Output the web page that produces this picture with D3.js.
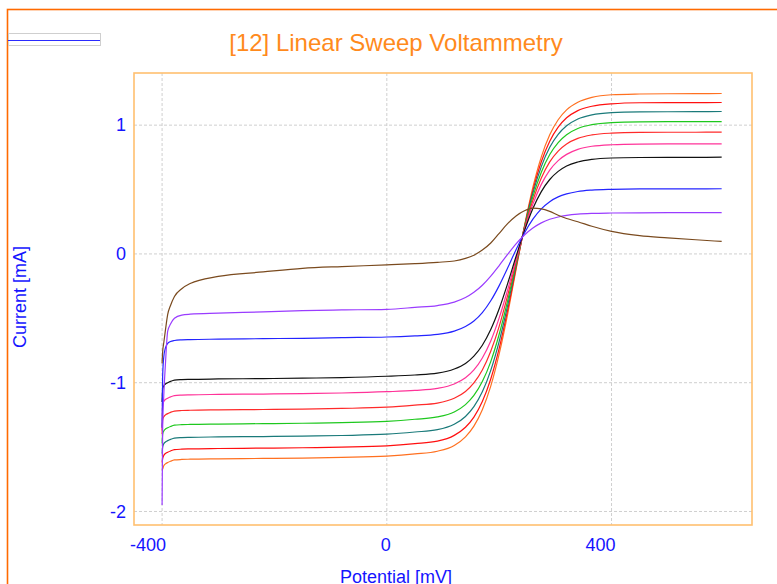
<!DOCTYPE html>
<html>
<head>
<meta charset="utf-8">
<script src="https://cdn.jsdelivr.net/npm/d3@7"></script>
<style>
  html, body { margin: 0; padding: 0; background: #fff; }
  svg { display: block; font-family: "Liberation Sans", Arial, sans-serif; }
</style>
</head>
<body>
<svg id="chart" width="777" height="584"></svg>
<script>
/* ---------- data ---------- */
const potential = [-400,-399,-397,-394,-390,-385,-378,-365,-350,-300,
                   -220,-150,-80,0,50,90,120,140,155,170,
                   185,200,215,230,245,260,275,290,305,320,
                   340,365,400,450,500,550,596];

const orange = [-1.68,-1.67,-1.645,-1.63,-1.62,-1.61,-1.60,-1.596,-1.594,-1.591,
                -1.588,-1.585,-1.58,-1.57,-1.553,-1.532,-1.487,-1.42,-1.337,-1.21,
                -1.027,-0.777,-0.469,-0.122,0.218,0.518,0.754,0.925,1.042,1.119,
                1.178,1.216,1.236,1.242,1.244,1.245,1.246];
const red1   = [-1.62,-1.59,-1.565,-1.55,-1.54,-1.53,-1.52,-1.516,-1.514,-1.511,
                -1.508,-1.505,-1.50,-1.49,-1.473,-1.454,-1.409,-1.346,-1.267,-1.146,
                -0.971,-0.734,-0.439,-0.110,0.211,0.493,0.716,0.875,0.984,1.057,
                1.113,1.147,1.166,1.174,1.175,1.175,1.176];
const teal   = [-1.55,-1.50,-1.475,-1.46,-1.45,-1.44,-1.43,-1.426,-1.424,-1.421,
                -1.418,-1.415,-1.41,-1.40,-1.383,-1.365,-1.323,-1.262,-1.186,-1.071,
                -0.904,-0.679,-0.401,-0.093,0.209,0.473,0.678,0.828,0.929,0.995,
                1.048,1.080,1.097,1.103,1.104,1.105,1.106];
const green  = [-1.47,-1.40,-1.375,-1.36,-1.35,-1.34,-1.33,-1.326,-1.324,-1.321,
                -1.318,-1.315,-1.31,-1.30,-1.284,-1.266,-1.227,-1.170,-1.099,-0.991,
                -0.836,-0.624,-0.364,-0.077,0.202,0.445,0.635,0.772,0.865,0.926,
                0.974,1.004,1.020,1.026,1.027,1.027,1.028];
const red2   = [-1.40,-1.29,-1.265,-1.25,-1.24,-1.23,-1.22,-1.216,-1.214,-1.211,
                -1.208,-1.205,-1.20,-1.19,-1.174,-1.158,-1.121,-1.068,-1.002,-0.902,
                -0.756,-0.563,-0.324,-0.061,0.195,0.417,0.590,0.715,0.799,0.854,
                0.897,0.924,0.938,0.944,0.945,0.945,0.946];
const pink   = [-1.37,-1.17,-1.145,-1.13,-1.12,-1.11,-1.10,-1.096,-1.094,-1.091,
                -1.088,-1.085,-1.08,-1.07,-1.060,-1.044,-1.010,-0.962,-0.901,-0.808,
                -0.676,-0.497,-0.280,-0.042,0.188,0.387,0.540,0.651,0.725,0.773,
                0.812,0.836,0.848,0.853,0.854,0.854,0.855];
const black  = [-1.15,-1.05,-1.025,-1.01,-1.00,-0.99,-0.98,-0.976,-0.974,-0.971,
                -0.968,-0.965,-0.96,-0.95,-0.940,-0.926,-0.894,-0.850,-0.793,-0.709,
                -0.587,-0.426,-0.231,-0.020,0.181,0.353,0.484,0.578,0.641,0.683,
                0.714,0.734,0.745,0.749,0.750,0.750,0.751];
const blue   = [-1.35,-0.95,-0.80,-0.73,-0.695,-0.68,-0.672,-0.667,-0.665,-0.662,
                -0.658,-0.655,-0.65,-0.645,-0.636,-0.625,-0.600,-0.564,-0.521,-0.456,
                -0.364,-0.246,-0.110,0.033,0.163,0.270,0.350,0.406,0.443,0.466,
                0.485,0.496,0.502,0.505,0.505,0.505,0.506];
const purple = [-1.95,-1.35,-1.10,-0.85,-0.60,-0.545,-0.50,-0.475,-0.468,-0.46,
                -0.45,-0.44,-0.435,-0.43,-0.415,-0.401,-0.374,-0.339,-0.298,-0.243,
                -0.172,-0.090,-0.004,0.078,0.147,0.201,0.241,0.269,0.287,0.299,
                0.309,0.315,0.318,0.3195,0.32,0.32,0.321];
const brown  = [-0.85,-0.76,-0.69,-0.59,-0.47,-0.40,-0.33,-0.27,-0.23,-0.175,
                -0.14,-0.112,-0.098,-0.085,-0.075,-0.065,-0.055,-0.035,-0.01,0.03,
                0.085,0.16,0.235,0.295,0.335,0.355,0.35,0.33,0.30,0.275,
                0.25,0.215,0.175,0.142,0.125,0.11,0.097];

const xTicks = [-400, 0, 400];
const yTicks = [1, 0, -1, -2];

const series  = [orange, red1, teal, green, red2, pink, black, blue, purple, brown];
const colours = ['#ff7020','#ff1010','#1a7a7a','#1ec81e','#ff2a2a','#ff3399',
                 '#111111','#2424ff','#9a3cff','#7a4a1e'];

/* ---------- svg & scales ---------- */
const svg = d3.select('#chart');
const P = {l:134, r:752, t:73, b:525};

const x = d3.scaleLinear().domain([-450, 650]).range([P.l, P.r]);
const y = d3.scaleLinear().domain([-2.105, 1.405]).range([P.b, P.t]);

// outer frame (only left/top edges inside the view)
svg.append('rect')
   .attr('x',7.5).attr('y',9.5).attr('width',800).attr('height',620)
   .attr('fill','none').attr('stroke','#ff6a00').attr('stroke-width',1.6);

// legend stub
svg.append('rect')
   .attr('x',8.5).attr('y',33.5).attr('width',92).attr('height',12)
   .attr('fill','#fff').attr('stroke','#cfcfcf');
svg.append('line')
   .attr('x1',8).attr('x2',100).attr('y1',40.5).attr('y2',40.5)
   .attr('stroke','#2a2aff').attr('stroke-width',1.2);

// title
svg.append('text')
   .attr('x',396).attr('y',51)
   .attr('text-anchor','middle')
   .style('font-size','24px').style('fill','#ff8a1c')
   .text('[12] Linear Sweep Voltammetry');

/* grid */
const grid = svg.append('g');
grid.selectAll('.vg').data(xTicks).enter().append('line')
    .attr('x1',d=>x(d)).attr('x2',d=>x(d)).attr('y1',P.t).attr('y2',P.b)
    .attr('stroke','#cfcfcf').attr('stroke-dasharray','3,2');
grid.selectAll('.hg').data(yTicks).enter().append('line')
    .attr('x1',P.l).attr('x2',P.r).attr('y1',d=>y(d)).attr('y2',d=>y(d))
    .attr('stroke','#cfcfcf').attr('stroke-dasharray','3,2');

/* curves */
const line = d3.line()
  .x((d,i)=>x(potential[i]))
  .y(d=>y(d))
  .curve(d3.curveMonotoneX);

const plot = svg.append('g');
series.forEach((s,k)=>{
  plot.append('path')
      .attr('d',line(s))
      .attr('fill','none')
      .attr('stroke',colours[k])
      .attr('stroke-width',1.2)
      .attr('stroke-linejoin','round');
});

/* plot frame */
svg.append('rect')
   .attr('x',P.l).attr('y',P.t).attr('width',P.r-P.l).attr('height',P.b-P.t)
   .attr('fill','none').attr('stroke','#ffc070').attr('stroke-width',1.6);

/* tick labels */
svg.selectAll('.xt').data(xTicks).enter().append('text')
   .attr('x',d=>x(d)+4).attr('y',551)
   .attr('text-anchor','end')
   .style('font-size','18px').style('fill','#1414ff')
   .text(d=>d);
svg.selectAll('.yt').data(yTicks).enter().append('text')
   .attr('x',126).attr('y',d=>y(d)).attr('dy','0.35em')
   .attr('text-anchor','end')
   .style('font-size','18px').style('fill','#1414ff')
   .text(d=>d);

/* axis titles */
svg.append('text')
   .attr('x',396).attr('y',583)
   .attr('text-anchor','middle')
   .style('font-size','18px').style('fill','#1414ff')
   .text('Potential [mV]');
svg.append('text')
   .attr('transform','translate(26,297) rotate(-90)')
   .attr('text-anchor','middle')
   .style('font-size','18px').style('fill','#1414ff')
   .text('Current [mA]');
</script>
</body>
</html>
